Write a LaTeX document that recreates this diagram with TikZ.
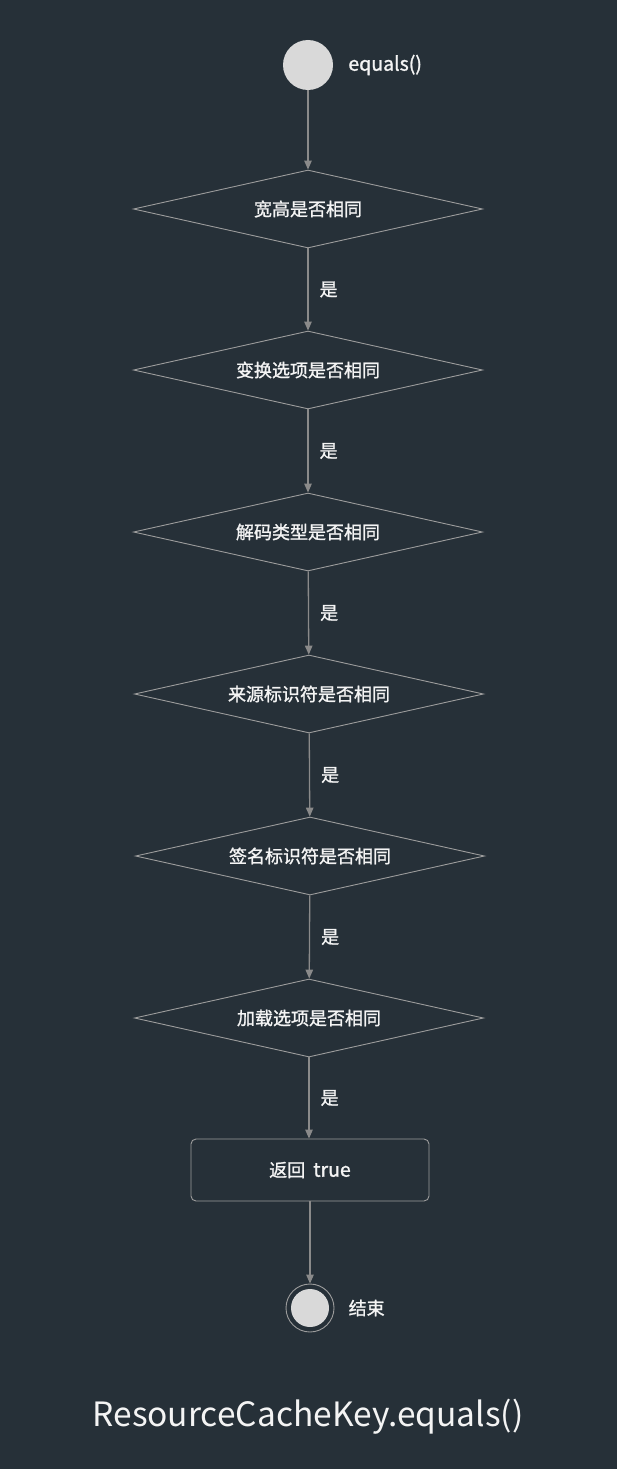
\documentclass[tikz,border=0pt]{standalone}
\usepackage{fontspec}
\setmainfont{Noto Sans CJK SC}
\newfontfamily\medio{Noto Sans CJK SC}[FakeBold=1.3]
\usepackage{xcolor}
\usetikzlibrary{shapes.geometric,arrows.meta,positioning}
\definecolor{fondo}{HTML}{263038}
\definecolor{relleno}{HTML}{D9D9D9}
\definecolor{linea}{HTML}{8A8A8A}
\definecolor{borde}{HTML}{9C9C9C}
\definecolor{texto}{HTML}{F4F4F4}
\newcommand{\lat}[1]{{\fontsize{19.5}{20}\selectfont #1}}
\tikzset{
  inicio/.style={circle,fill=relleno,minimum size=50pt,inner sep=0pt},
  final/.style={circle,draw=borde,line width=0.9pt,minimum size=48pt,inner sep=0pt},
  decision/.style={diamond,draw=borde,line width=0.9pt,aspect=4.47,inner sep=0pt,
    minimum width=349pt,minimum height=78pt,text=texto,font=\medio\fontsize{18}{20}\selectfont},
  accion/.style={rectangle,rounded corners=5pt,draw=borde,line width=0.9pt,
    minimum width=238pt,minimum height=62pt,text=texto,font=\medio\fontsize{18}{20}\selectfont},
  flecha/.style={-{Triangle[length=9pt,width=7.5pt]},linea,line width=1.3pt},
  si/.style={text=texto,inner sep=3pt,font=\medio\fontsize{18}{20}\selectfont},
  nombre/.style={text=texto,inner sep=2pt,font=\medio\fontsize{18}{20}\selectfont},
  titulo/.style={text=texto,font=\fontsize{33.5}{36}\selectfont}
}
\begin{document}
\begin{tikzpicture}[x=1pt,y=-1pt]
\fill[fondo] (0,0) rectangle (617,1469);
\useasboundingbox (0,0) rectangle (617,1469);
% nodos
\node[inicio] (ini) at (308,65) {};
\node[nombre,right=13pt of ini] (nini) {\lat{equals()}};
\node[decision] (d1) at (308,209) {宽高是否相同};
\node[decision] (d2) at (308,370) {变换选项是否相同};
\node[decision] (d3) at (308,532) {解码类型是否相同};
\node[decision] (d4) at (309,694) {来源标识符是否相同};
\node[decision] (d5) at (310,856) {签名标识符是否相同};
\node[decision] (d6) at (309,1018) {加载选项是否相同};
\node[accion] (ret) at (310,1170) {返回\hspace{8pt}\lat{true}};
\node[final] (fin) at (310,1308) {};
\fill[relleno] (fin.center) circle (19);
\node[nombre,right=12pt of fin] (nfin) {结束};
\node[titulo] (tit) at (308,1417) {ResourceCacheKey.equals()};
% conectores
\draw[flecha] (ini) -- (d1);
\draw[flecha] (d1) -- node[si,right=8pt]{是} (d2);
\draw[flecha] (d2) -- node[si,right=8pt]{是} (d3);
\draw[flecha] (d3) -- node[si,right=8pt]{是} (d4);
\draw[flecha] (d4) -- node[si,right=8pt]{是} (d5);
\draw[flecha] (d5) -- node[si,right=8pt]{是} (d6);
\draw[flecha] (d6.south) -- node[si,right=8pt]{是} (d6.south |- ret.north);
\draw[flecha] (ret) -- (fin);
\end{tikzpicture}
\end{document}
